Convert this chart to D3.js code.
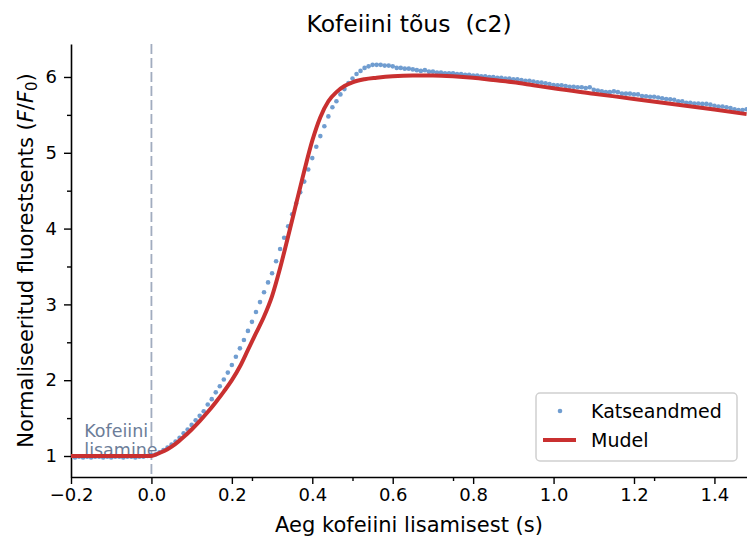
<!DOCTYPE html>
<html>
<head>
<meta charset="utf-8">
<script src="https://cdn.jsdelivr.net/npm/d3@7"></script>
<style>
  body { margin: 0; background: #fff; }
  svg { display: block; font-family: "DejaVu Sans", sans-serif; }
</style>
</head>
<body>
<div id="chart-area"></div>
<script>
// measured data (Katseandmed)
var dataT = [
  -0.19, -0.18, -0.17, -0.16, -0.15, -0.14, -0.13, -0.12, -0.11, -0.10,
  -0.09, -0.08, -0.07, -0.06, -0.05, -0.04, -0.03, -0.02, -0.01, 0.00,
  0.01, 0.02, 0.03, 0.04, 0.05, 0.06, 0.07, 0.08, 0.09, 0.10,
  0.11, 0.12, 0.13, 0.14, 0.15, 0.16, 0.17, 0.18, 0.19, 0.20,
  0.21, 0.22, 0.23, 0.24, 0.25, 0.26, 0.27, 0.28, 0.29, 0.30,
  0.31, 0.32, 0.33, 0.34, 0.35, 0.36, 0.37, 0.38, 0.39, 0.40,
  0.41, 0.42, 0.43, 0.44, 0.45, 0.46, 0.47, 0.48, 0.49, 0.50,
  0.51, 0.52, 0.53, 0.54, 0.55, 0.56, 0.57, 0.58, 0.59, 0.60,
  0.61, 0.62, 0.63, 0.64, 0.65, 0.66, 0.67, 0.68, 0.69, 0.70,
  0.71, 0.72, 0.73, 0.74, 0.75, 0.76, 0.77, 0.78, 0.79, 0.80,
  0.81, 0.82, 0.83, 0.84, 0.85, 0.86, 0.87, 0.88, 0.89, 0.90,
  0.91, 0.92, 0.93, 0.94, 0.95, 0.96, 0.97, 0.98, 0.99, 1.00,
  1.01, 1.02, 1.03, 1.04, 1.05, 1.06, 1.07, 1.08, 1.09, 1.10,
  1.11, 1.12, 1.13, 1.14, 1.15, 1.16, 1.17, 1.18, 1.19, 1.20,
  1.21, 1.22, 1.23, 1.24, 1.25, 1.26, 1.27, 1.28, 1.29, 1.30,
  1.31, 1.32, 1.33, 1.34, 1.35, 1.36, 1.37, 1.38, 1.39, 1.40,
  1.41, 1.42, 1.43, 1.44, 1.45, 1.46, 1.47, 1.48
];
var dataF = [
  0.98, 0.99, 0.98, 0.99, 0.98, 0.99, 0.99, 0.98, 0.99, 0.98,
  0.99, 0.99, 0.98, 0.99, 0.99, 0.98, 0.99, 0.99, 1.00, 1.01,
  1.02, 1.05, 1.08, 1.11, 1.15, 1.19, 1.24, 1.30, 1.35, 1.41,
  1.47, 1.53, 1.59, 1.68, 1.75, 1.84, 1.92, 2.01, 2.10, 2.20,
  2.31, 2.42, 2.53, 2.65, 2.77, 2.90, 3.03, 3.16, 3.29, 3.41,
  3.57, 3.73, 3.88, 4.03, 4.19, 4.33, 4.48, 4.62, 4.78, 4.93,
  5.08, 5.22, 5.35, 5.48, 5.60, 5.68, 5.77, 5.84, 5.92, 5.98,
  6.04, 6.08, 6.12, 6.14, 6.16, 6.16, 6.16, 6.15, 6.15, 6.14,
  6.12, 6.12, 6.11, 6.11, 6.10, 6.09, 6.08, 6.09, 6.07, 6.07,
  6.06, 6.06, 6.05, 6.05, 6.05, 6.04, 6.04, 6.03, 6.03, 6.02,
  6.02, 6.01, 6.01, 6.00, 6.00, 5.99, 5.99, 5.98, 5.98, 5.97,
  5.97, 5.96, 5.95, 5.95, 5.94, 5.93, 5.925, 5.916, 5.908, 5.895,
  5.89, 5.89, 5.88, 5.87, 5.87, 5.865, 5.865, 5.855, 5.865, 5.83,
  5.82, 5.81, 5.80, 5.80, 5.81, 5.80, 5.78, 5.78, 5.78, 5.77,
  5.77, 5.75, 5.745, 5.74, 5.74, 5.73, 5.72, 5.71, 5.705, 5.70,
  5.68, 5.68, 5.66, 5.66, 5.65, 5.65, 5.645, 5.645, 5.635, 5.62,
  5.61, 5.61, 5.60, 5.59, 5.575, 5.565, 5.565, 5.575
];

// model curve (Mudel)
var modelT = [-0.2, 0.0, 0.02, 0.04, 0.06, 0.08, 0.10, 0.12, 0.14, 0.16,
  0.18, 0.20, 0.22, 0.24, 0.26, 0.28, 0.30, 0.32, 0.34, 0.36,
  0.38, 0.40, 0.42, 0.44, 0.46, 0.48, 0.50, 0.53, 0.56, 0.60,
  0.65, 0.70, 0.75, 0.80, 0.85, 0.90, 0.95, 1.00, 1.10, 1.20,
  1.30, 1.40, 1.48];
var modelF = [1.0, 1.0, 1.04, 1.09, 1.16, 1.25, 1.35, 1.46, 1.58, 1.71,
  1.85, 2.00, 2.18, 2.40, 2.62, 2.84, 3.11, 3.48, 3.90, 4.33,
  4.76, 5.16, 5.47, 5.68, 5.80, 5.88, 5.93, 5.97, 5.99, 6.01,
  6.02, 6.02, 6.01, 5.99, 5.96, 5.93, 5.89, 5.85, 5.78, 5.71,
  5.64, 5.57, 5.51];

var xTicks = [-0.2, 0.0, 0.2, 0.4, 0.6, 0.8, 1.0, 1.2, 1.4];
var xMinor = [0.25, 0.5, 0.75, 1.25];
var yTicks = [1, 2, 3, 4, 5, 6];
var yMinor = [1.5, 2.5, 3.5, 4.5, 5.5];

var W = 747, H = 540;
var margin = {top: 44, right: 0, bottom: 63, left: 71};
var width = W - margin.left - margin.right;
var height = H - margin.top - margin.bottom;

var svg = d3.select("#chart-area").append("svg")
    .attr("width", W)
    .attr("height", H);

var g = svg.append("g")
    .attr("transform", "translate(" + margin.left + "," + margin.top + ")");

var x = d3.scaleLinear().domain([-0.2, 1.481]).range([0, width]);
var y = d3.scaleLinear().domain([0.723, 6.435]).range([height, 0]);

var red = "#c93030";
var blue = "#4c84c4";
var slate = "#6c7d98";

// axes
g.append("g")
    .attr("transform", "translate(0," + height + ")")
    .call(d3.axisBottom(x).tickValues(xTicks).tickFormat(d3.format(".1f"))
      .tickSize(7).tickPadding(4).tickSizeOuter(0));
g.append("g")
    .attr("transform", "translate(0," + height + ")")
    .call(d3.axisBottom(x).tickValues(xMinor).tickFormat("").tickSize(4).tickSizeOuter(0))
    .select(".domain").remove();

g.append("g")
    .call(d3.axisLeft(y).tickValues(yTicks).tickFormat(d3.format("d"))
      .tickSize(7).tickPadding(7).tickSizeOuter(0));
g.append("g")
    .call(d3.axisLeft(y).tickValues(yMinor).tickFormat("").tickSize(4).tickSizeOuter(0))
    .select(".domain").remove();

g.selectAll(".domain").attr("stroke", "#000").attr("stroke-width", 1.6);
g.selectAll(".tick line").attr("stroke", "#000").attr("stroke-width", 1.4);
g.selectAll(".tick text")
    .attr("fill", "#000")
    .attr("font-family", "DejaVu Sans")
    .attr("font-size", 18);

// vertical marker for caffeine addition
g.append("line")
    .attr("x1", x(0)).attr("x2", x(0))
    .attr("y1", 0).attr("y2", height)
    .attr("stroke", "#8290aa")
    .attr("stroke-opacity", 0.75)
    .attr("stroke-width", 1.8)
    .attr("stroke-dasharray", "10,4");

var ann = g.append("text")
    .attr("fill", slate)
    .attr("font-size", 17.5);
ann.append("tspan").attr("x", x(-0.167)).attr("y", y(1.245)).text("Kofeiini");
ann.append("tspan").attr("x", x(-0.167)).attr("y", y(0.998)).text("lisamine");

// data dots
var pts = dataT.map(function(t, i) { return {t: t, f: dataF[i]}; });
g.selectAll("circle.pt")
    .data(pts)
    .enter()
    .append("circle")
    .attr("class", "pt")
    .attr("cx", function(d) { return x(d.t); })
    .attr("cy", function(d) { return y(d.f); })
    .attr("r", 2.3)
    .attr("fill", blue)
    .attr("fill-opacity", 0.8);

// model line
var model = modelT.map(function(t, i) { return {t: t, f: modelF[i]}; });
var line = d3.line()
    .x(function(d) { return x(d.t); })
    .y(function(d) { return y(d.f); })
    .curve(d3.curveMonotoneX);
g.append("path")
    .datum(model)
    .attr("d", line)
    .attr("fill", "none")
    .attr("stroke", red)
    .attr("stroke-width", 4);

// legend
var leg = svg.append("g").attr("transform", "translate(536,393)");
leg.append("rect")
    .attr("width", 201).attr("height", 68)
    .attr("rx", 4).attr("ry", 4)
    .attr("fill", "#fff").attr("fill-opacity", 0.8)
    .attr("stroke", "#d0d0d0").attr("stroke-width", 1.5);
leg.append("circle")
    .attr("cx", 24).attr("cy", 18).attr("r", 2.3)
    .attr("fill", blue).attr("fill-opacity", 0.8);
leg.append("line")
    .attr("x1", 7).attr("x2", 40).attr("y1", 47).attr("y2", 47)
    .attr("stroke", red).attr("stroke-width", 4);
leg.append("text").attr("x", 55).attr("y", 24.5).attr("font-size", 19).text("Katseandmed");
leg.append("text").attr("x", 55).attr("y", 53.5).attr("font-size", 19).text("Mudel");

// labels
svg.append("text")
    .attr("x", margin.left + width / 2)
    .attr("y", 32)
    .attr("text-anchor", "middle")
    .attr("font-size", 23.5)
    .style("white-space", "pre")
    .text("Kofeiini tõus  (c2)");

svg.append("text")
    .attr("x", margin.left + width / 2)
    .attr("y", 532)
    .attr("text-anchor", "middle")
    .attr("font-size", 21)
    .text("Aeg kofeiini lisamisest (s)");

var yl = svg.append("text")
    .attr("transform", "translate(33," + (margin.top + height / 2) + ") rotate(-90)")
    .attr("text-anchor", "middle")
    .attr("font-size", 21);
yl.append("tspan").text("Normaliseeritud fluorestsents (");
yl.append("tspan").attr("font-style", "italic").text("F");
yl.append("tspan").text("/");
yl.append("tspan").attr("font-style", "italic").text("F");
yl.append("tspan").attr("font-size", 15).attr("dy", 4).text("0");
yl.append("tspan").attr("dy", -4).text(")");
</script>
</body>
</html>
